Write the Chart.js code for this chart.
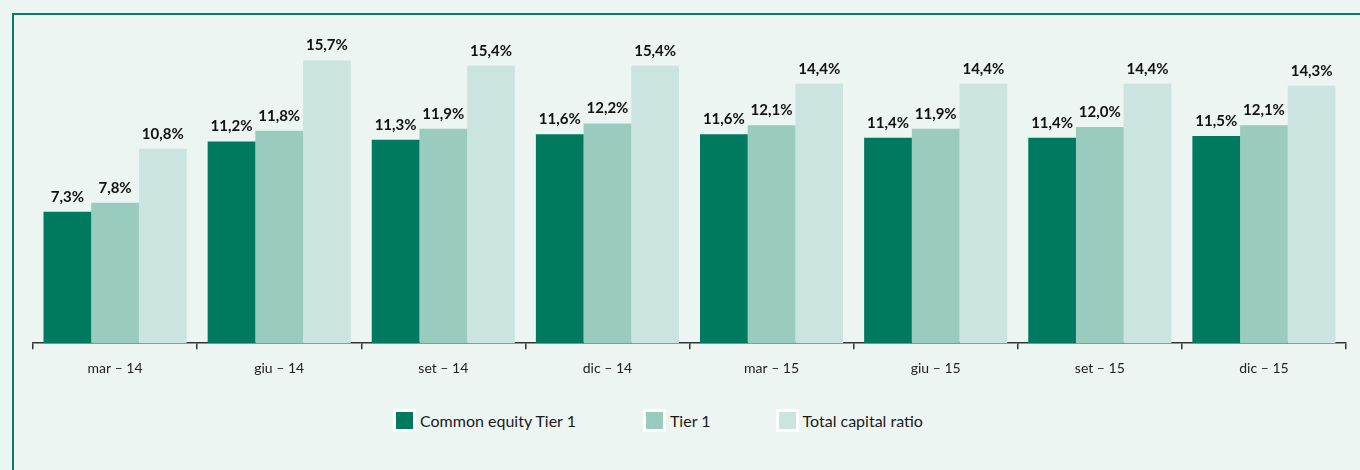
<!DOCTYPE html>
<html>
<head>
<meta charset="utf-8">
<script src="https://cdn.jsdelivr.net/npm/chart.js@4"></script>
<style>
  html, body { margin: 0; padding: 0; background: #edf5f3; }
  body { width: 1360px; height: 470px; position: relative; overflow: hidden; font-family: Lato, "DejaVu Sans", sans-serif; }
  #frame { position: absolute; left: 12px; top: 13px; right: -10px; bottom: -10px; border-left: 2px solid #0b7b60; border-top: 2px solid #0b7b60; }
  #wrap { position: absolute; left: 0; top: 0; width: 1360px; height: 400px; }
  #legend { position: absolute; left: 393px; top: 409px; display: flex; align-items: center; font-size: 16px; color: #1a1a1a; }
  #legend .item { display: flex; align-items: center; }
  #legend .box { width: 17px; height: 17px; border: 3px solid #fff; margin-right: 4px; }
</style>
</head>
<body>
<div id="frame"></div>
<div id="wrap"><canvas id="capitalChart" width="1360" height="400"></canvas></div>
<div id="legend"></div>
<script>
  // Categories and series (values in %)
  const categories = ['mar – 14', 'giu – 14', 'set – 14', 'dic – 14', 'mar – 15', 'giu – 15', 'set – 15', 'dic – 15'];
  const cet1 = [7.3, 11.2, 11.3, 11.6, 11.6, 11.4, 11.4, 11.5];
  const tier1 = [7.8, 11.8, 11.9, 12.2, 12.1, 11.9, 12.0, 12.1];
  const totalCapital = [10.8, 15.7, 15.4, 15.4, 14.4, 14.4, 14.4, 14.3];
  const seriesNames = ['Common equity Tier 1', 'Tier 1', 'Total capital ratio'];
  const seriesColors = ['#007a5e', '#99cbbf', '#cbe4df'];

  const fmt = v => v.toFixed(1).replace('.', ',') + '%';

  // draws the value above each bar
  const valueLabels = {
    id: 'valueLabels',
    afterDatasetsDraw(chart) {
      const ctx = chart.ctx;
      ctx.save();
      ctx.font = 'bold 15px Lato, "DejaVu Sans", sans-serif';
      ctx.fillStyle = '#111';
      ctx.textAlign = 'center';
      ctx.textBaseline = 'alphabetic';
      chart.data.datasets.forEach((ds, i) => {
        chart.getDatasetMeta(i).data.forEach((bar, j) => {
          ctx.fillText(fmt(ds.data[j]), bar.x, bar.y - 10);
        });
      });
      ctx.restore();
    }
  };

  const ctx = document.getElementById('capitalChart').getContext('2d');
  const capitalChart = new Chart(ctx, {
    type: 'bar',
    data: {
      labels: categories,
      datasets: [
        { label: seriesNames[0], data: cet1, backgroundColor: seriesColors[0] },
        { label: seriesNames[1], data: tier1, backgroundColor: seriesColors[1] },
        { label: seriesNames[2], data: totalCapital, backgroundColor: seriesColors[2] }
      ]
    },
    options: {
      responsive: false,
      animation: false,
      layout: { padding: { left: 33, right: 14, top: 37, bottom: 12 } },
      datasets: { bar: { categoryPercentage: 0.872, barPercentage: 1.0, borderWidth: 0 } },
      plugins: { legend: { display: false }, tooltip: { enabled: false } },
      scales: {
        x: {
          offset: true,
          grid: { display: true, drawOnChartArea: false, offset: true, tickLength: 6, color: '#333', lineWidth: 1.5 },
          border: { display: true, color: '#333', width: 1.5 },
          ticks: { color: '#222', padding: 11, font: { size: 14, family: 'Lato, "DejaVu Sans", sans-serif' } }
        },
        y: {
          display: false,
          min: 0,
          max: 17
        }
      }
    },
    plugins: [valueLabels]
  });

  // legend
  const legend = document.getElementById('legend');
  const gaps = [0, 67, 65];
  seriesNames.forEach((name, i) => {
    const item = document.createElement('div');
    item.className = 'item';
    item.style.marginLeft = gaps[i] + 'px';
    item.innerHTML = '<span class="box" style="background:' + seriesColors[i] + '"></span><span>' + name + '</span>';
    legend.appendChild(item);
  });
</script>
</body>
</html>
